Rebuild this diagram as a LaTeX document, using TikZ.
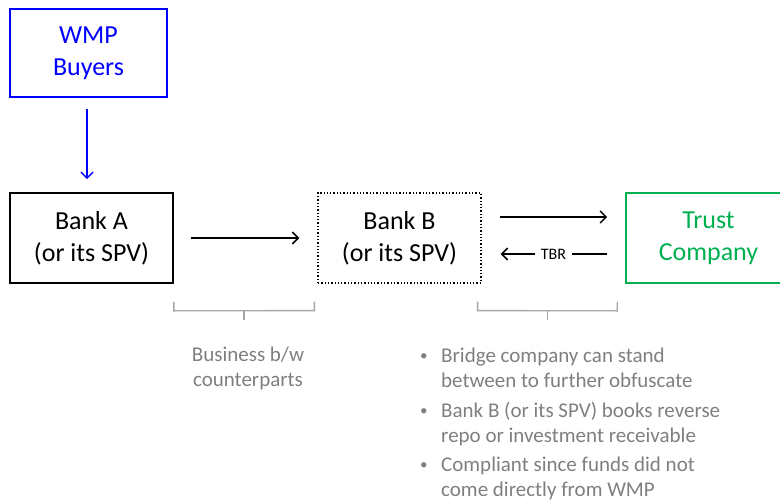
\documentclass[tikz,border=0pt]{standalone}
\usepackage{fontspec}
\setmainfont{Carlito}
\usetikzlibrary{calc,positioning,arrows.meta}

\definecolor{wmpblue}{RGB}{0,0,255}
\definecolor{trustgreen}{RGB}{0,176,80}
\definecolor{notegray}{RGB}{127,127,127}
\definecolor{bracegray}{RGB}{166,166,166}

\newcommand{\notebullet}{\makebox[21pt][l]{\raisebox{2pt}{\fontsize{15}{15}\selectfont\textbullet}}}

\begin{document}
\begin{tikzpicture}[
        x=1pt,y=-1pt,
        BoxCfg/.style={
            draw,
            line width=1.6pt,
            minimum width=163pt,
            minimum height=90pt,
            align=center,
            font=\fontsize{26}{32}\selectfont
        },
        FlowArrow/.style={
            -{Straight Barb[length=6pt,width=12pt]},
            line width=1.5pt
        },
        BraceLine/.style={
            bracegray,
            line width=1.4pt
        },
        NoteCfg/.style={
            notegray,
            font=\fontsize{21}{25}\selectfont
        }
    ]
    \useasboundingbox (0,0) rectangle (780,503);

    %boxes
    \node[BoxCfg,wmpblue,minimum width=157pt,minimum height=88pt] (buyers) at (88.5,53) {WMP\\Buyers};
    \node[BoxCfg] (bankA) at (91.5,238) {Bank A\\(or its SPV)};
    \node[BoxCfg,line width=1.3pt,dotted] (bankB) at (399.5,238) {Bank B\\(or its SPV)};
    \node[BoxCfg,trustgreen,minimum width=165pt] (trust) at (708.5,238) {Trust\\Company};

    %connections
    \draw[FlowArrow,wmpblue,shorten <=11pt,shorten >=13pt] (buyers.south -| 87,0) -- (bankA.north -| 87,0);
    \draw[FlowArrow,shorten <=17pt,shorten >=18pt] (bankA.east) -- (bankB.west);
    \draw[FlowArrow,shorten <=18pt,shorten >=18pt] ($(bankB.east)+(0,-21)$) -- ($(trust.west)+(0,-21)$);
    \draw[FlowArrow,shorten <=18pt,shorten >=19pt] ($(trust.west)+(0,16)$) -- node[fill=white,inner xsep=6pt,font=\fontsize{16}{18}\selectfont]{TBR} ($(bankB.east)+(0,16)$);

    %brackets
    \coordinate (b1L) at ($(bankA.south east)+(0,27)$);
    \coordinate (b1R) at ($(bankB.south west)+(-3,27)$);
    \draw[BraceLine] ($(b1L)+(0,-9)$) -- (b1L) -- (b1R) -- ($(b1R)+(0,-9)$);
    \draw[BraceLine] ($(b1L)!0.5!(b1R)$) coordinate (b1M) -- ++(0,9);
    \coordinate (b2L) at ($(bankB.south east)+(-4,27)$);
    \coordinate (b2R) at ($(trust.south west)+(-8,27)$);
    \draw[BraceLine] ($(b2L)+(0,-9)$) -- (b2L) -- (b2R) -- ($(b2R)+(0,-9)$);
    \draw[BraceLine] ($(b2L)!0.5!(b2R)$) coordinate (b2M) -- ++(0,9);

    %notes
    \node[NoteCfg,align=center] (noteA) at (248,368.5) {Business b/w\\counterparts};
    \node[NoteCfg,anchor=north west,inner sep=0pt] (noteB) at (420,344.5) {%
        \begin{tabular}{@{}l@{}l@{}}
        \notebullet & Bridge company can stand\\
         & between to further obfuscate\\[5pt]
        \notebullet & Bank B (or its SPV) books reverse\\
         & repo or investment receivable\\[4.5pt]
        \notebullet & Compliant since funds did not\\
         & come directly from WMP
        \end{tabular}};

\end{tikzpicture}
\end{document}
